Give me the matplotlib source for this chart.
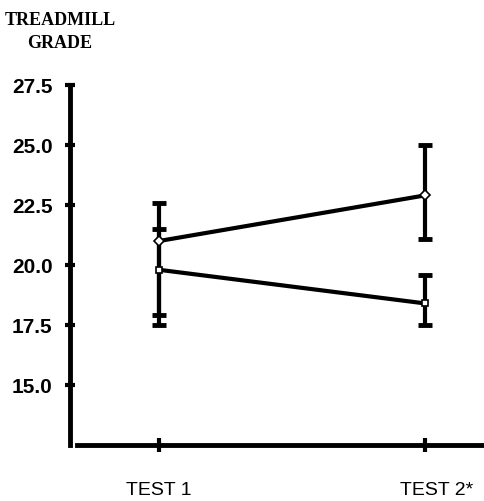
import matplotlib
matplotlib.use('Agg')
import matplotlib.pyplot as plt
import matplotlib.transforms as mtransforms

# values
tests = ["TEST 1", "TEST 2*"]
xpos = [1, 2]

upper_mean = [21.0, 22.9]
upper_hi = [22.6, 25.0]
upper_lo = [17.9, 21.1]

lower_mean = [19.8, 18.4]
lower_hi = [21.5, 19.6]
lower_lo = [17.5, 17.5]

yticks = [15.0, 17.5, 20.0, 22.5, 25.0, 27.5]

fig = plt.figure(figsize=(4.84, 5.02), dpi=100)
ax = fig.add_axes([70 / 484, 1 - 446 / 502, 1 - 70 / 484, (446 - 86) / 502])

for mean, hi, lo, mk in [(upper_mean, upper_hi, upper_lo, 'D'),
                         (lower_mean, lower_hi, lower_lo, 's')]:
    err = [[m - l for m, l in zip(mean, lo)], [h - m for h, m in zip(hi, mean)]]
    ax.errorbar(xpos, mean, yerr=err, fmt='none', ecolor='black',
                elinewidth=3, capsize=5, capthick=3.5, clip_on=False, zorder=3)
    ax.plot(xpos, mean, color='black', lw=3, marker=mk, ms=5,
            mfc='white', mec='black', mew=1.2, clip_on=False, zorder=4)

ax.set_xlim(0.665, 2.222)
ax.set_ylim(12.5, 27.5)

for s in ['top', 'right']:
    ax.spines[s].set_visible(False)
ax.spines['left'].set_linewidth(3.5)
ax.spines['bottom'].set_linewidth(3.5)
ax.spines['bottom'].set_bounds(0.692, 2.222)

ax.set_yticks(yticks)
ax.set_yticklabels(['%.1f' % v for v in yticks], fontsize=15, fontweight='bold',
                   family='Liberation Sans')
ax.tick_params(axis='y', direction='inout', length=7, width=3, pad=9)

ax.set_xticks(xpos)
ax.set_xticklabels(tests, fontsize=14, family='Liberation Sans')
ax.tick_params(axis='x', direction='inout', length=10, width=3, pad=21)
# the asterisk hangs to the right of the centred "TEST 2"
for lab in ax.get_xticklabels():
    if lab.get_text().endswith('*'):
        lab.set_transform(lab.get_transform() + mtransforms.ScaledTranslation(0.12, 0, fig.dpi_scale_trans))

fig.text(60 / 484, 1 - 12 / 502, "TREADMILL\nGRADE", ha='center', va='top',
         fontsize=13, fontweight='bold', family='Liberation Serif', linespacing=1.45)

fig.savefig('out.png', dpi=100)
